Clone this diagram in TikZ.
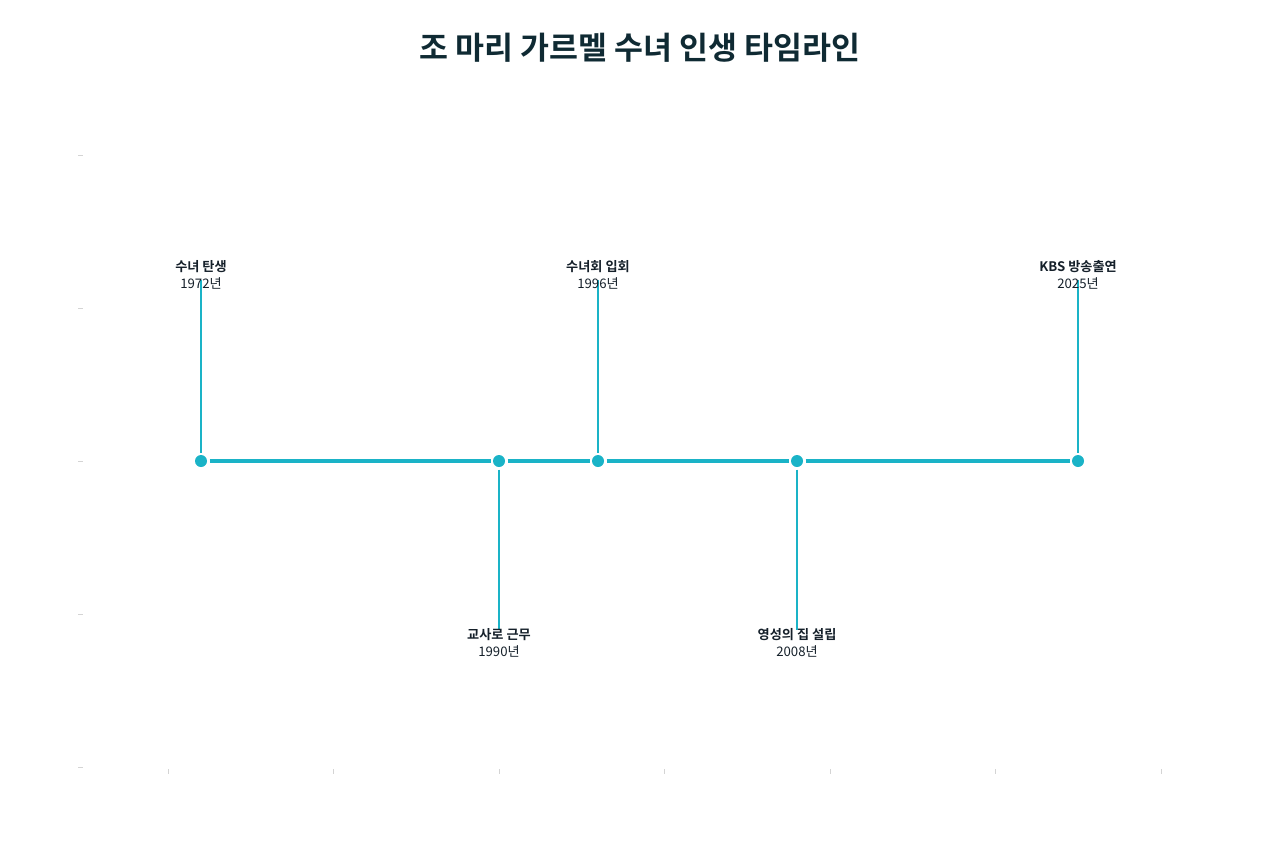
\documentclass[tikz,border=0pt]{standalone}
\usepackage{fontspec}
\setmainfont{Noto Sans CJK KR}[BoldFont={Noto Sans CJK KR Bold}]
\usetikzlibrary{calc, positioning}
\definecolor{lifeline}{HTML}{1AB3C7}
\definecolor{titleink}{HTML}{0F2A33}
\definecolor{labelink}{HTML}{15202A}
\definecolor{tickgray}{HTML}{D4D4D4}
\tikzset{
  event/.style={circle, fill=lifeline, inner sep=0pt, minimum size=0.24cm, outer sep=0.05cm},
  evlabel/.style={align=center, text=labelink, inner sep=1pt, font=\fontsize{7.5}{9.6}\selectfont},
  mainline/.style={draw=lifeline, line width=2.3pt},
  stemline/.style={draw=lifeline, line width=1.1pt},
}

\begin{document}
\begin{tikzpicture}[x=0.02cm, y=-0.02cm]
\def\liney{461}
\def\upy{275}
\def\downy{643}
\useasboundingbox (0,0) rectangle (1280,853);

\draw[tickgray, line width=0.5pt] (78,155) -- (83,155) (78,308) -- (83,308)
  (78,461) -- (83,461) (78,614) -- (83,614) (78,767) -- (83,767)
  (168,769) -- (168,774) (333,769) -- (333,774) (499,769) -- (499,774)
  (664,769) -- (664,774) (830,769) -- (830,774) (995,769) -- (995,774)
  (1161,769) -- (1161,774);

\node[font=\bfseries\fontsize{17.9}{21}\selectfont, text=titleink] (title) at (640,48) {조 마리 가르멜 수녀 인생 타임라인};

\node[event] (birth) at (201,\liney) {};
\node[event] (teacher) at (499,\liney) {};
\node[event] (vows) at (598,\liney) {};
\node[event] (house) at (797,\liney) {};
\node[event] (kbs) at (1078,\liney) {};

\draw[mainline] (birth) -- (teacher);
\draw[mainline] (teacher) -- (vows);
\draw[mainline] (vows) -- (house);
\draw[mainline] (house) -- (kbs);

\coordinate (birthtop) at (201,280);
\coordinate (teacherbot) at (499,630);
\coordinate (vowstop) at (598,280);
\coordinate (housebot) at (797,630);
\coordinate (kbstop) at (1078,280);

\draw[stemline] (birth) -- (birthtop);
\draw[stemline] (teacher) -- (teacherbot);
\draw[stemline] (vows) -- (vowstop);
\draw[stemline] (house) -- (housebot);
\draw[stemline] (kbs) -- (kbstop);

\node[evlabel] (birthlbl) at (201,\upy) {\textbf{수녀 탄생}\\1972년};
\node[evlabel] (teacherlbl) at (499,\downy) {\textbf{교사로 근무}\\1990년};
\node[evlabel] (vowslbl) at (598,\upy) {\textbf{수녀회 입회}\\1996년};
\node[evlabel] (houselbl) at (797,\downy) {\textbf{영성의 집 설립}\\2008년};
\node[evlabel] (kbslbl) at (1078,\upy) {\textbf{KBS 방송출연}\\2025년};
\end{tikzpicture}
\end{document}
